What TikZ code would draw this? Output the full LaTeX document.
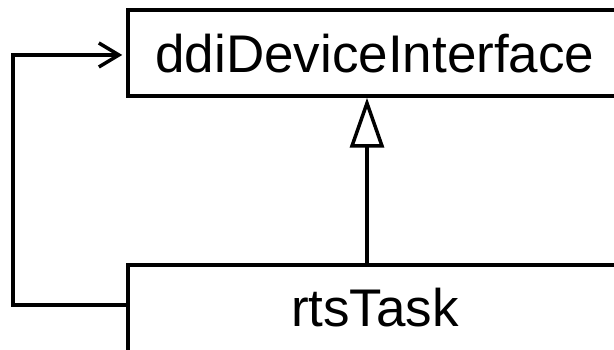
\documentclass[tikz,border=0pt]{standalone}
\usepackage{fontspec}
\setmainfont{Liberation Sans}
\usetikzlibrary{arrows.meta}
\begin{document}
\begin{tikzpicture}[x=1pt,y=1pt,
  classbox/.style={draw, line width=3.5pt, rectangle, minimum width=494pt,
    font=\fontsize{53}{60}\selectfont, text depth=0pt},
  link/.style={line width=3.5pt},
  usesarrow/.style={link, -{Straight Barb[length=20pt,width=24pt]}, shorten >=4pt},
  inherits/.style={link, -{Triangle[open,length=50pt,width=34pt]}}]
\useasboundingbox (0,0) rectangle (614,350);
% the interface and the task that realises it
\node[classbox, minimum height=86pt, text height=40pt] (ddi) at (375,297) {ddiDeviceInterface};
\node[classbox, minimum height=92pt, text height=32pt] (rts) at (375,39) {rtsTask};
% generalisation
\draw[inherits] ([xshift=-8pt]rts.north) -- ([xshift=-8pt]ddi.south);
% usage link round the left side
\draw[usesarrow] ([yshift=-42pt]rts.north west) -- ++(-113.5,0) |- ([yshift=-2pt]ddi.west);
\end{tikzpicture}
\end{document}
